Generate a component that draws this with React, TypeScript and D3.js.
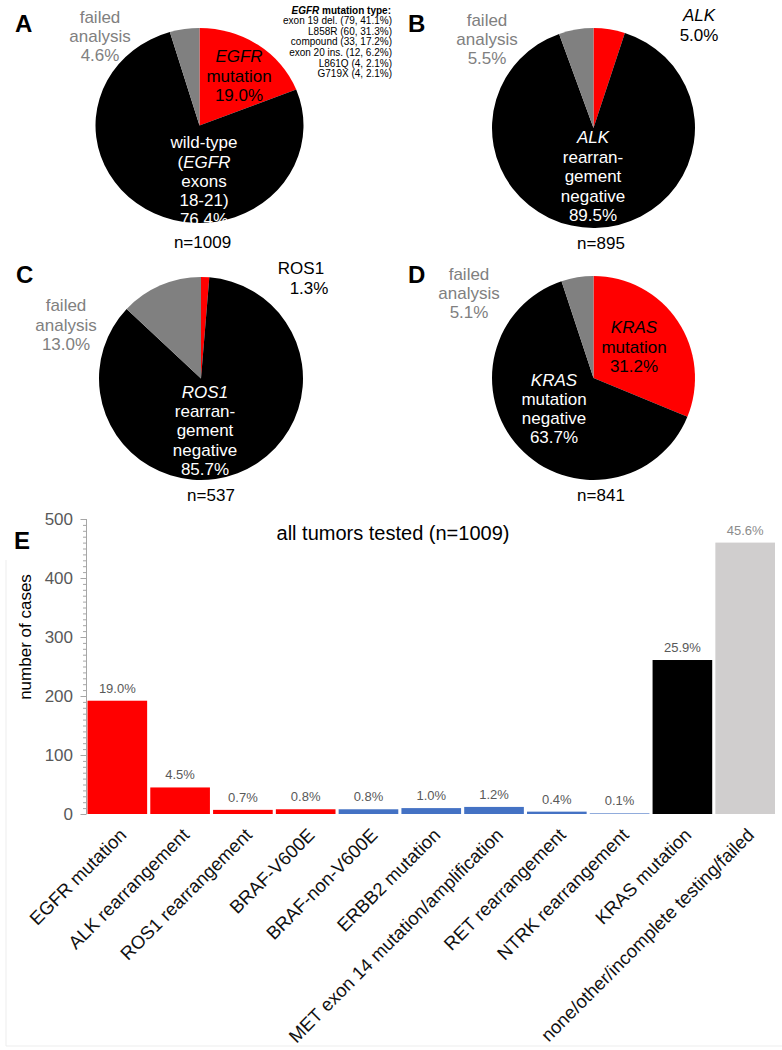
import React from "react";
import * as d3 from "d3";

const FONT = "'Liberation Sans', Arial, Helvetica, sans-serif";

// ---------- Pie data ----------
const pieLetters = ["A", "B", "C", "D"];
const pieGenes = ["EGFR", "ALK", "ROS1", "KRAS"];
const pieMutated = [19.0, 5.0, 1.3, 31.2];
const pieNegative = [76.4, 89.5, 85.7, 63.7];
const pieFailed = [4.6, 5.5, 13.0, 5.1];
const pieN = [1009, 895, 537, 841];

// ---------- EGFR mutation type legend ----------
const egfrTypes = ["exon 19 del.", "L858R", "compound", "exon 20 ins.", "L861Q", "G719X"];
const egfrCounts = [79, 60, 33, 12, 4, 4];
const egfrPct = [41.1, 31.3, 17.2, 6.2, 2.1, 2.1];

// ---------- Bar data ----------
const barCategories = [
  "EGFR mutation",
  "ALK rearrangement",
  "ROS1 rearrangement",
  "BRAF-V600E",
  "BRAF-non-V600E",
  "ERBB2 mutation",
  "MET exon 14 mutation/amplification",
  "RET rearrangement",
  "NTRK rearrangement",
  "KRAS mutation",
  "none/other/incomplete testing/failed",
];
const barCases = [192, 45, 7, 8, 8, 10, 12, 4, 1, 261, 460];
const barPct = [19.0, 4.5, 0.7, 0.8, 0.8, 1.0, 1.2, 0.4, 0.1, 25.9, 45.6];
const barGroups = ["red", "red", "red", "red", "blue", "blue", "blue", "blue", "blue", "black", "grey"];
const yTicks = [0, 100, 200, 300, 400, 500];

const groupColor: Record<string, string> = {
  red: "#ff0000",
  blue: "#4472c4",
  black: "#000000",
  grey: "#d0cece",
};

type Seg = { t: string; i?: boolean };
type Block = { x: number; ys: number[]; color: string; lines: Seg[][] };

const pct = (v: number) => `${v.toFixed(1)}%`;

function TextBlock({ b, size = 17 }: { b: Block; size?: number }) {
  return (
    <g>
      {b.lines.map((line, li) => (
        <text
          key={li}
          x={b.x}
          y={b.ys[li]}
          textAnchor="middle"
          fontSize={size}
          fill={b.color}
          fontFamily={FONT}
        >
          {line.map((s, si) => (
            <tspan key={si} fontStyle={s.i ? "italic" : "normal"}>
              {s.t}
            </tspan>
          ))}
        </text>
      ))}
    </g>
  );
}

const pieGeom = [
  { cx: 199.5, cy: 125.5, rx: 104, ry: 97.5, lx: 15, ly: 32, nx: 202.5, ny: 248 },
  { cx: 593.5, cy: 128, rx: 101.5, ry: 100, lx: 408, ly: 32, nx: 601, ny: 249 },
  { cx: 201, cy: 378.5, rx: 102, ry: 101.5, lx: 16, ly: 283, nx: 211, ny: 501 },
  { cx: 593.5, cy: 378, rx: 101.5, ry: 102, lx: 408, ly: 283, nx: 601, ny: 501 },
];

function pieBlocks(k: number): Block[] {
  const g = pieGenes[k];
  const grey = "#808080";
  if (k === 0)
    return [
      { x: 100, ys: [23, 42, 61], color: grey, lines: [[{ t: "failed" }], [{ t: "analysis" }], [{ t: pct(pieFailed[0]) }]] },
      { x: 239, ys: [62, 81.5, 101], color: "#000", lines: [[{ t: g, i: true }], [{ t: "mutation" }], [{ t: pct(pieMutated[0]) }]] },
      {
        x: 204,
        ys: [148, 167.5, 187, 206, 225],
        color: "#fff",
        lines: [[{ t: "wild-type" }], [{ t: "(" }, { t: g, i: true }], [{ t: "exons" }], [{ t: "18-21)" }], [{ t: pct(pieNegative[0]) }]],
      },
    ];
  if (k === 1)
    return [
      { x: 487, ys: [26, 45, 64], color: grey, lines: [[{ t: "failed" }], [{ t: "analysis" }], [{ t: pct(pieFailed[1]) }]] },
      { x: 699, ys: [21, 41], color: "#000", lines: [[{ t: g, i: true }], [{ t: pct(pieMutated[1]) }]] },
      {
        x: 593,
        ys: [143, 162.5, 182, 201.5, 221],
        color: "#fff",
        lines: [[{ t: g, i: true }], [{ t: "rearran-" }], [{ t: "gement" }], [{ t: "negative" }], [{ t: pct(pieNegative[1]) }]],
      },
    ];
  if (k === 2)
    return [
      { x: 66, ys: [311, 330.5, 350], color: grey, lines: [[{ t: "failed" }], [{ t: "analysis" }], [{ t: pct(pieFailed[2]) }]] },
      { x: 301, ys: [274], color: "#000", lines: [[{ t: "ROS1" }]] },
      { x: 309, ys: [294], color: "#000", lines: [[{ t: pct(pieMutated[2]) }]] },
      {
        x: 205,
        ys: [397.5, 417, 436.3, 455.5, 475],
        color: "#fff",
        lines: [[{ t: g, i: true }], [{ t: "rearran-" }], [{ t: "gement" }], [{ t: "negative" }], [{ t: pct(pieNegative[2]) }]],
      },
    ];
  return [
    { x: 469, ys: [279.5, 298.5, 318], color: grey, lines: [[{ t: "failed" }], [{ t: "analysis" }], [{ t: pct(pieFailed[3]) }]] },
    { x: 634, ys: [333, 352.5, 372], color: "#000", lines: [[{ t: g, i: true }], [{ t: "mutation" }], [{ t: pct(pieMutated[3]) }]] },
    {
      x: 554,
      ys: [385.5, 404.8, 424, 443.3],
      color: "#fff",
      lines: [[{ t: g, i: true }], [{ t: "mutation" }], [{ t: "negative" }], [{ t: pct(pieNegative[3]) }]],
    },
  ];
}

function Pie({ k }: { k: number }) {
  const geo = pieGeom[k];
  const values = [pieMutated[k], pieNegative[k], pieFailed[k]];
  const colors = ["#ff0000", "#000000", "#808080"];
  const arcs = d3.pie<number>().sort(null).value((d) => d)(values);
  const arc = d3.arc<d3.PieArcDatum<number>>().innerRadius(0).outerRadius(100);
  return (
    <g>
      <g transform={`translate(${geo.cx},${geo.cy}) scale(${geo.rx / 100},${geo.ry / 100})`}>
        {arcs.map((a, i) => (
          <path key={i} d={arc(a) || ""} fill={colors[i]} />
        ))}
      </g>
      {pieBlocks(k).map((b, i) => (
        <TextBlock key={i} b={b} />
      ))}
      <text x={geo.nx} y={geo.ny} textAnchor="middle" fontSize={17} fontFamily={FONT} fill="#000">
        n={pieN[k]}
      </text>
      <text x={geo.lx} y={geo.ly} fontSize={24} fontWeight="bold" fontFamily={FONT} fill="#000">
        {pieLetters[k]}
      </text>
    </g>
  );
}

function Legend() {
  const xr = 392;
  return (
    <g fontFamily={FONT} fontSize={10} fill="#000" textAnchor="end">
      <text x={xr - 1} y={13.5} fontWeight="bold">
        <tspan fontStyle="italic">EGFR</tspan> mutation type:
      </text>
      {egfrTypes.map((t, i) => (
        <text key={t} x={xr} y={24.2 + i * 10.6}>
          {`${t} (${egfrCounts[i]}, ${egfrPct[i].toFixed(1)}%)`}
        </text>
      ))}
    </g>
  );
}

function Bars() {
  const x = d3.scaleBand<string>().domain(barCategories).range([87.5, 775]).paddingInner(0.05);
  const y = d3.scaleLinear().domain([0, 500]).range([814, 519]);
  const minor = d3.range(0, 501, 10);
  return (
    <g fontFamily={FONT}>
      {/* faint frame */}
      <line x1={6} x2={6} y1={560} y2={1046} stroke="#ededed" />
      <line x1={6} x2={782} y1={1046} y2={1046} stroke="#ededed" />
      <text x={14} y={549} fontSize={24} fontWeight="bold" fill="#000">E</text>
      <text x={393} y={540} fontSize={20} textAnchor="middle" fill="#000">
        all tumors tested (n=1009)
      </text>
      {barCategories.map((c, i) => (
        <rect
          key={c}
          x={x(c)!}
          y={y(barCases[i])}
          width={x.bandwidth()}
          height={y(0) - y(barCases[i])}
          fill={groupColor[barGroups[i]]}
        />
      ))}
      {barCategories.map((c, i) => (
        <text
          key={c + "p"}
          x={x(c)! + x.bandwidth() / 2}
          y={y(barCases[i]) - 8}
          fontSize={13}
          textAnchor="middle"
          fill={i === barCategories.length - 1 ? "#8c8c8c" : "#595959"}
        >
          {pct(barPct[i])}
        </text>
      ))}
      {/* y axis */}
      <line x1={86.5} x2={86.5} y1={y(500)} y2={y(0)} stroke="#a6a6a6" />
      {minor.map((v) => (
        <line key={v} x1={v % 100 === 0 ? 80.5 : 83} x2={86.5} y1={y(v) + 0.5} y2={y(v) + 0.5} stroke="#a6a6a6" />
      ))}
      {yTicks.map((v) => (
        <text key={v} x={73} y={y(v) + 6} fontSize={17} textAnchor="end" fill="#595959">
          {v}
        </text>
      ))}
      <text transform="translate(31,637) rotate(-90)" fontSize={17} textAnchor="middle" fill="#000">
        number of cases
      </text>
      {barCategories.map((c) => (
        <text
          key={c + "l"}
          transform={`translate(${x(c)! + x.bandwidth() / 2 + 1},827) rotate(-45)`}
          dy="0.7em"
          fontSize={18.5}
          textAnchor="end"
          fill="#111"
        >
          {c}
        </text>
      ))}
    </g>
  );
}

export default function App() {
  return (
    <svg
      width={782}
      height={1050}
      style={{ position: "absolute", left: 0, top: 0, background: "#fff" }}
    >
      <rect width={782} height={1050} fill="#fff" />
      {[0, 1, 2, 3].map((k) => (
        <Pie key={k} k={k} />
      ))}
      <Legend />
      <Bars />
    </svg>
  );
}
